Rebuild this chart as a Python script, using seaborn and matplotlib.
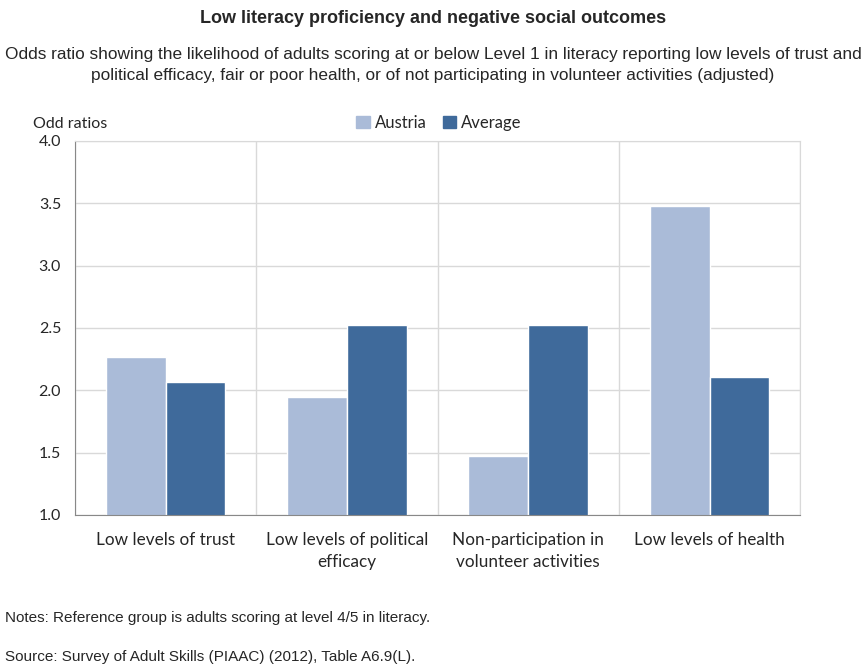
import seaborn as sns
import matplotlib.pyplot as plt
import pandas as pd

categories = ["Low levels of trust", "Low levels of political\nefficacy",
              "Non-participation in\nvolunteer activities", "Low levels of health"]
austria = [2.27, 1.95, 1.47, 3.48]
average = [2.07, 2.52, 2.52, 2.11]
series = ["Austria", "Average"]
colors = ["#AABBD8", "#3F6A9B"]
yticks = [1.0, 1.5, 2.0, 2.5, 3.0, 3.5, 4.0]

df = pd.DataFrame({
    "category": categories * 2,
    "value": austria + average,
    "series": [series[0]] * 4 + [series[1]] * 4,
})

sns.set_style("white")
plt.rcParams["font.family"] = ["Liberation Sans", "DejaVu Sans"]

fig = plt.figure(figsize=(8.66, 6.64), dpi=100)
ax = fig.add_axes([0.0866, 0.2244, 0.8374, 0.5633])

sns.barplot(data=df, x="category", y="value", hue="series", palette=colors,
            width=0.66, ax=ax, legend=False, saturation=1)

ax.set_ylim(1.0, 4.0)
ax.set_xlim(-0.5, 3.5)
ax.set_yticks(yticks)
ax.set_yticklabels([f"{t:.1f}" for t in yticks], fontfamily="Lato", fontsize=11.5)
ax.set_xticks(range(4))
ax.set_xticklabels(categories, fontfamily="Lato", fontsize=12.3, linespacing=1.45)
ax.set_xticks([-0.5, 0.5, 1.5, 2.5, 3.5], minor=True)
ax.set_xlabel("")
ax.set_ylabel("")

ax.grid(axis="y", color="#d9d9d9", linewidth=1)
ax.grid(axis="x", which="minor", color="#d9d9d9", linewidth=1)
ax.grid(axis="x", which="major", visible=False)
ax.set_axisbelow(True)
ax.tick_params(axis="both", which="both", direction="out", length=4,
               color="#888888", pad=8)
ax.tick_params(axis="y", length=4, pad=6)
for s in ["left", "bottom"]:
    ax.spines[s].set_color("#888888")
for s in ["top", "right"]:
    ax.spines[s].set_color("#d9d9d9")

handles = [plt.Rectangle((0, 0), 1, 1, color=c) for c in colors]
fig.legend(handles, series, loc="center", bbox_to_anchor=(0.507, 0.815), ncol=2,
           frameon=False, prop={"family": "Lato", "size": 12},
           handlelength=0.8, handleheight=0.8, handletextpad=0.3, columnspacing=1.0)

fig.text(0.038, 0.813, "Odd ratios", fontfamily="Lato", fontsize=11.5, va="center")
fig.text(0.5, 0.972, "Low literacy proficiency and negative social outcomes",
         ha="center", va="center", fontsize=13, fontweight="bold")
fig.text(0.5, 0.902,
         "Odds ratio showing the likelihood of adults scoring at or below Level 1 in literacy reporting low levels of trust and\n"
         "political efficacy, fair or poor health, or of not participating in volunteer activities (adjusted)",
         ha="center", va="center", fontsize=12.4, linespacing=1.55)
fig.text(0.006, 0.069, "Notes: Reference group is adults scoring at level 4/5 in literacy.",
         fontsize=11, va="center")
fig.text(0.006, 0.011, "Source: Survey of Adult Skills (PIAAC) (2012), Table A6.9(L).",
         fontsize=11, va="center")

fig.savefig("out.png", dpi=100)
